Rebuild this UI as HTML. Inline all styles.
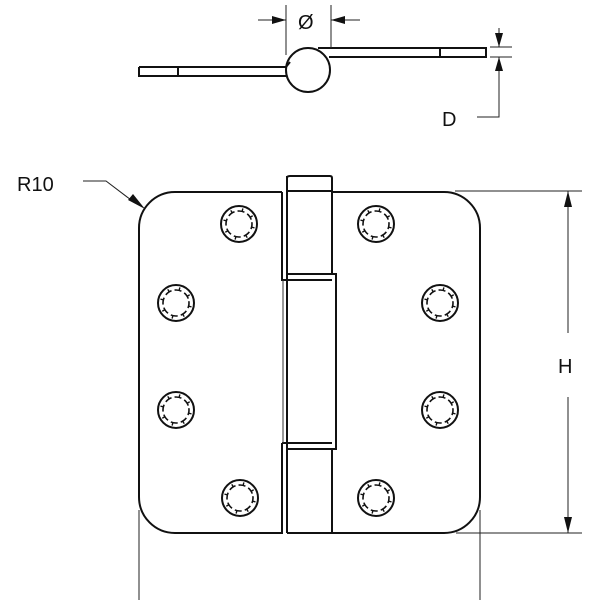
<!DOCTYPE html>
<html><head><style>body{margin:0;background:#fff}svg{display:block}</style></head><body>
<svg width="600" height="600" viewBox="0 0 600 600" xmlns="http://www.w3.org/2000/svg">
<defs>
<g id="scr" fill="none" stroke="#111">
<circle r="18" stroke-width="2"/>
<circle r="13" stroke-width="1.6" stroke-dasharray="7 3.21" transform="rotate(-8)"/>
<g stroke-width="1.4" transform="rotate(14)">
<path d="M0,-13 V-16 M0,13 V16 M-13,0 H-16 M13,0 H16 M9.2,-9.2 L11.3,-11.3 M-9.2,9.2 L-11.3,11.3 M9.2,9.2 L11.3,11.3 M-9.2,-9.2 L-11.3,-11.3"/>
</g></g>
</defs>
<g fill="none" stroke="#111" stroke-width="2">
<path d="M139,67 H286 L290,62 M139,67 V76 H287 M178,67 V76"/>
<circle cx="308" cy="70" r="22"/>
<path d="M318,48 H486 V57 H329 M440,48 V57"/>
<path d="M282,192 H175 A36,36 0 0 0 139,228 V497 A36,36 0 0 0 175,533 H282 V443 M282,192 V280 H287"/>
<path d="M287,533 H444 A36,36 0 0 0 480,497 V228 A36,36 0 0 0 444,192 H332"/>
<path d="M287,191 V178 Q287,176 290,176 H330 Q332,176 332,178 V274 H336 V449 H332 V533"/>
<path d="M287,191 H332 M287,176 V533 M287,274 H332 M287,280 H332 M287,443 H332 M287,449 H332 M282,443 H287"/>
</g>
<path d="M283,280 V443" stroke="#333" stroke-width="1" fill="none"/>
<use href="#scr" x="239" y="224"/><use href="#scr" x="376" y="224"/>
<use href="#scr" x="176" y="303"/><use href="#scr" x="440" y="303"/>
<use href="#scr" x="176" y="410"/><use href="#scr" x="440" y="410"/>
<use href="#scr" x="240" y="498"/><use href="#scr" x="376" y="498"/>
<g stroke="#222" stroke-width="1" fill="none">
<path d="M286,5 V55 M331,5 V48 M258,20 H286 M331,20 H360"/>
<path d="M490,47 H512 M490,57 H512 M499,28 V47 M499,57 V117 H477"/>
<path d="M455,191 H582 M456,533 H582 M568,191 V333 M568,397 V533"/>
<path d="M139,510 V600 M480,510 V600"/>
<path d="M83,181 H106 L135,203"/>
</g>
<g fill="#111">
<path d="M286,20 L272,16 L272,24Z M331,20 L345,16 L345,24Z"/>
<path d="M499,47 L495,33 L503,33Z M499,57 L495,71 L503,71Z"/>
<path d="M568,191 L564,207 L572,207Z M568,533 L564,517 L572,517Z"/>
<path d="M145,209 L128,200 L133,194Z"/>
</g>
<g font-family="'Liberation Sans',sans-serif" font-size="20" fill="#111">
<text x="298" y="29">Ø</text>
<text x="442" y="126">D</text>
<text x="558" y="373">H</text>
<text x="17" y="191">R10</text>
</g>
</svg>
</body></html>
